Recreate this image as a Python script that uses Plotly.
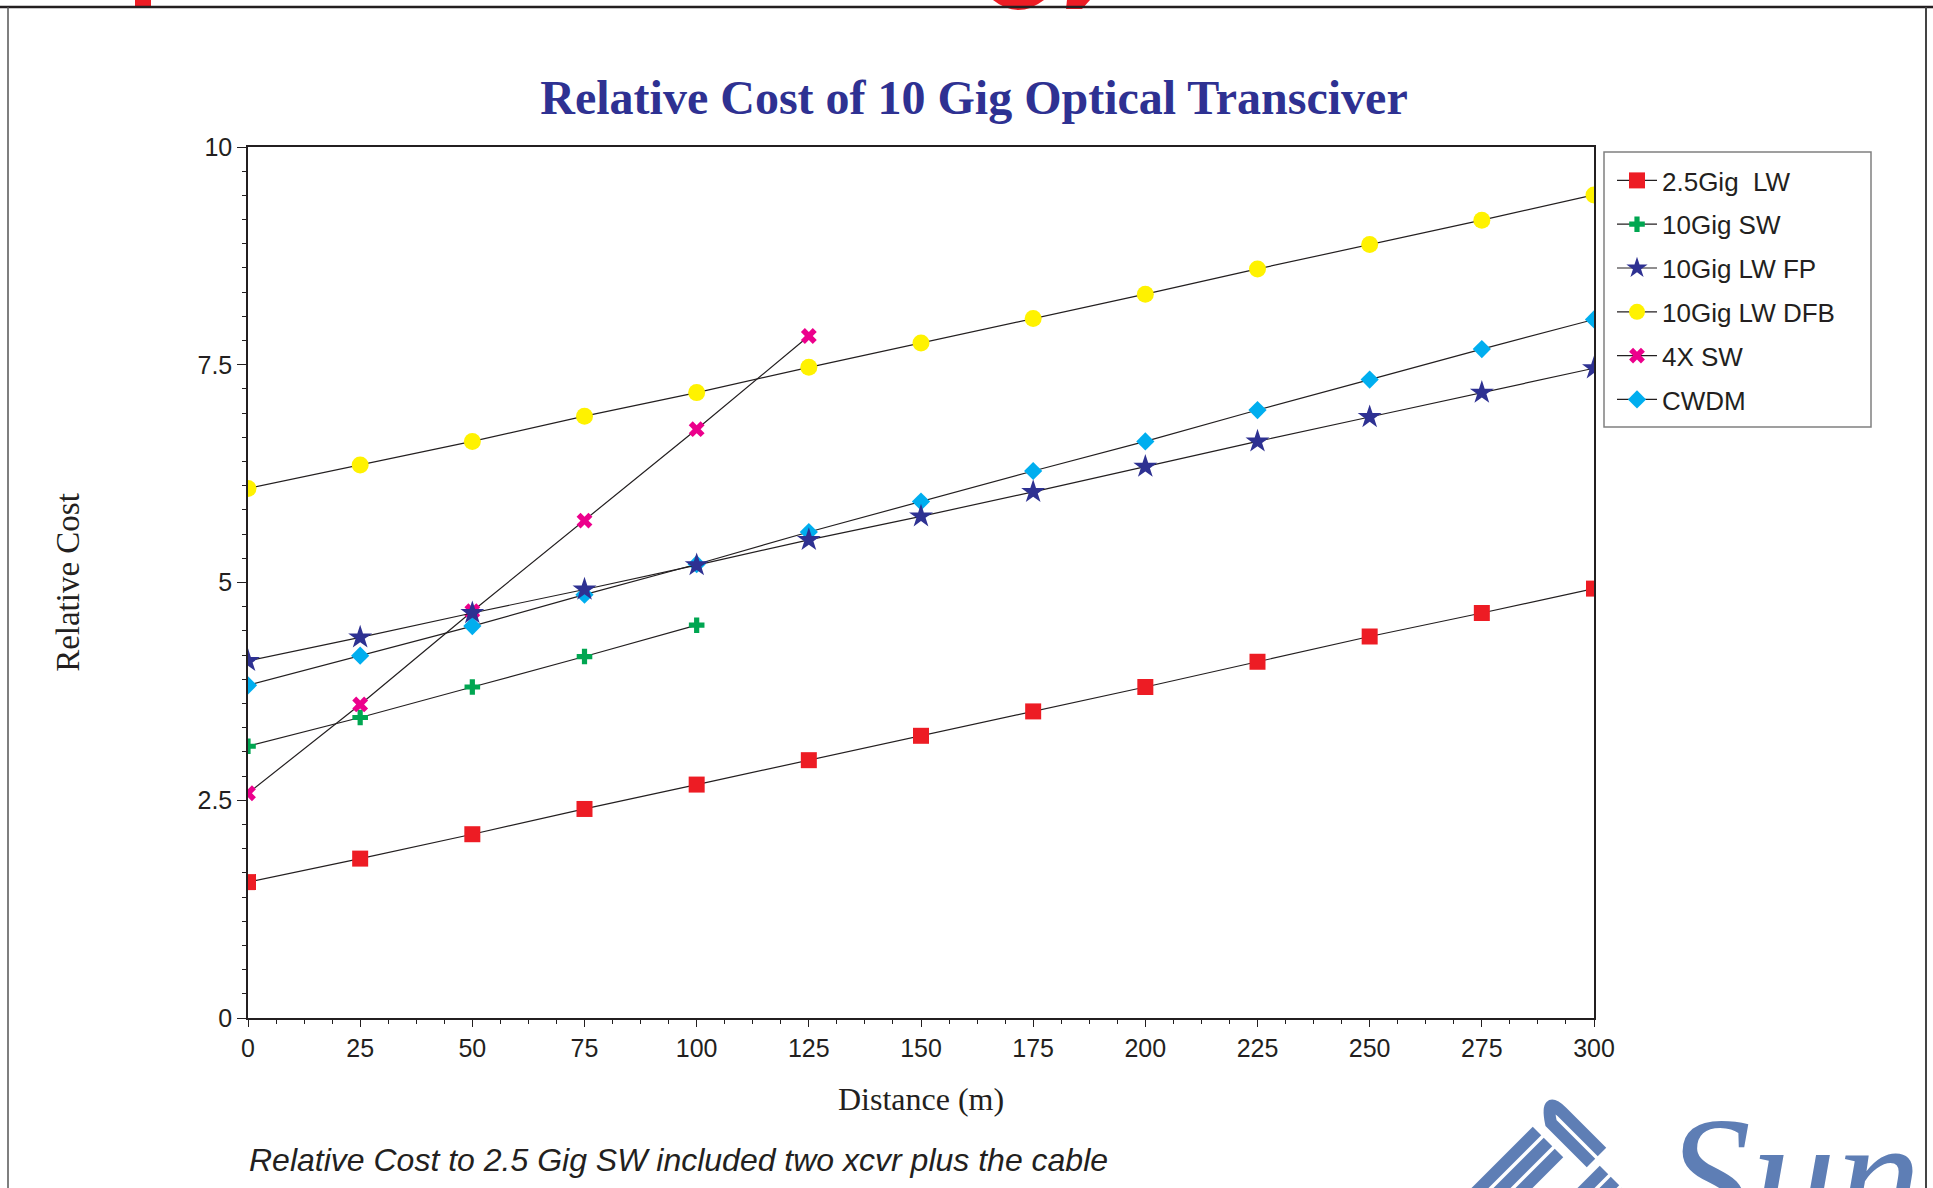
import plotly.graph_objects as go

# ---- data -------------------------------------------------------------
distance = [0, 25, 50, 75, 100, 125, 150, 175, 200, 225, 250, 275, 300]

lw_2_5g = [1.56, 1.83, 2.11, 2.40, 2.68, 2.96, 3.24, 3.52, 3.80, 4.09, 4.38, 4.65, 4.93]
sw_10g = [3.12, 3.45, 3.80, 4.15, 4.51]
lw_fp_10g = [4.10, 4.37, 4.65, 4.92, 5.20, 5.49, 5.76, 6.04, 6.33, 6.62, 6.90, 7.18, 7.46]
lw_dfb_10g = [6.08, 6.35, 6.62, 6.91, 7.18, 7.47, 7.75, 8.03, 8.31, 8.60, 8.88, 9.16, 9.45]
sw_4x = [2.58, 3.60, 4.67, 5.71, 6.76, 7.83]
cwdm = [3.82, 4.16, 4.50, 4.86, 5.21, 5.58, 5.93, 6.28, 6.62, 6.98, 7.33, 7.68, 8.02]

series_names = ["2.5Gig  LW", "10Gig SW", "10Gig LW FP", "10Gig LW DFB", "4X SW", "CWDM"]

# ---- page geometry (pixels) -------------------------------------------
W, H = 1933, 1188
PL, PR, PT, PB = 248, 1594, 147, 1018  # plot area edges


def px(x):
    return (x - PL) / (PR - PL)


def py(y):
    return (PB - y) / (PB - PT)


def path(points, close=False):
    s = "M " + " L ".join(f"{px(x):.5f},{py(y):.5f}" for x, y in points)
    return s + (" Z" if close else "")


INK = "#231F20"
LINE = dict(color=INK, width=1.2)

fig = go.Figure()

# drawing order puts the stars on top; legend order is set by legendrank
traces = [
    (series_names[0], distance, lw_2_5g, "square", 16, "#ED1C24", 1),
    (series_names[1], distance[:len(sw_10g)], sw_10g, "cross", 13, "#00A651", 2),
    (series_names[3], distance, lw_dfb_10g, "circle", 17, "#FFF200", 4),
    (series_names[4], distance[:len(sw_4x)], sw_4x, "x", 14, "#EC008C", 5),
    (series_names[5], distance, cwdm, "diamond", 14, "#00AEEF", 6),
    (series_names[2], distance, lw_fp_10g, "star", 18, "#2E3192", 3),
]
for name, xs, ys, sym, size, color, rank in traces:
    fig.add_trace(go.Scatter(
        x=xs, y=ys, name=name, mode="lines+markers",
        line=LINE,
        marker=dict(symbol=sym, size=size, color=color, line=dict(width=0)),
        legendrank=rank, legendgroup=name,
    ))

axis_font = dict(family="Liberation Sans, Arial, sans-serif", size=25, color=INK)
title_font = dict(family="Liberation Serif, Times New Roman, serif", size=32, color=INK)

fig.update_xaxes(
    range=[0, 300], dtick=25, tick0=0,
    showline=True, linecolor=INK, linewidth=1.5, mirror=True,
    ticks="outside", ticklen=7, tickwidth=1.2, tickcolor=INK,
    minor=dict(dtick=6.25, tick0=0, ticks="outside", ticklen=4, tickwidth=1, tickcolor=INK),
    showgrid=False, zeroline=False, tickfont=axis_font,
    title=dict(text="Distance (m)", font=title_font, standoff=27),
)
fig.update_yaxes(
    range=[0, 10], dtick=2.5, tick0=0,
    showline=True, linecolor=INK, linewidth=1.5, mirror=True,
    ticks="outside", ticklen=9, tickwidth=1.2, tickcolor=INK,
    minor=dict(dtick=2.5 / 9, tick0=0, ticks="outside", ticklen=4, tickwidth=1, tickcolor=INK),
    showgrid=False, zeroline=False, tickfont=axis_font,
    title=dict(text="Relative Cost", font=dict(title_font, size=33), standoff=108),
)

blue_logo = "#5E7EB5"
red_mark = "#ED1C24"
PAPER = dict(xref="paper", yref="paper")

shapes = [
    # slide fragments above the frame
    dict(type="rect", x0=px(135), x1=px(151), y0=py(0), y1=py(8),
         fillcolor=red_mark, line=dict(width=0), **PAPER),
    dict(type="path", path=f"M {px(993):.5f},{py(0):.5f} Q {px(1018):.5f},{py(20):.5f} {px(1044):.5f},{py(0):.5f} Z",
         fillcolor=red_mark, line=dict(width=0), **PAPER),
    dict(type="path", path=path([(1067, 0), (1090, 0), (1082, 9), (1066, 9)], close=True),
         fillcolor=red_mark, line=dict(width=0), **PAPER),
    # slide frame
    dict(type="line", x0=px(0), x1=px(W), y0=py(7), y1=py(7), line=dict(color=INK, width=2.5), **PAPER),
    dict(type="line", x0=px(8), x1=px(8), y0=py(7), y1=py(H + 5), line=dict(color="#555555", width=1.5), **PAPER),
    dict(type="line", x0=px(1926), x1=px(1926), y0=py(7), y1=py(H + 5), line=dict(color="#444444", width=2), **PAPER),
    # legend frame
    dict(type="rect", x0=px(1604), x1=px(1871), y0=py(152), y1=py(427),
         line=dict(color="#808080", width=1.5), fillcolor="rgba(0,0,0,0)", **PAPER),
]

# corporate mark in the lower right corner
lw_bar = 12
u_top = (f"M {px(1602):.5f},{py(1152):.5f} L {px(1562):.5f},{py(1112):.5f} "
         f"Q {px(1545):.5f},{py(1095):.5f} {px(1551):.5f},{py(1123):.5f} "
         f"L {px(1591):.5f},{py(1163):.5f}")
shapes.append(dict(type="path", path=u_top, line=dict(color=blue_logo, width=lw_bar), **PAPER))
for (x0, y0), (x1, y1) in [((1537, 1131), (1470, 1198)),
                           ((1548, 1142), (1484, 1206)),
                           ((1559, 1153), (1500, 1212)),
                           ((1604, 1170), (1580, 1194)),
                           ((1615, 1181), (1600, 1196)),
                           ((1626, 1192), (1620, 1198))]:
    shapes.append(dict(type="line", x0=px(x0), y0=py(y0), x1=px(x1), y1=py(y1),
                       line=dict(color=blue_logo, width=lw_bar), **PAPER))

annotations = [
    dict(text="<i>Relative Cost to 2.5 Gig SW included two xcvr plus the cable</i>",
         x=px(247), y=py(1160), xref="paper", yref="paper", xanchor="left", yanchor="middle",
         showarrow=False, font=dict(family="Liberation Sans, Arial, sans-serif", size=32, color=INK)),
    dict(text="<i>Sun</i>",
         x=px(1664), y=py(1080), xref="paper", yref="paper", xanchor="left", yanchor="top",
         showarrow=False, font=dict(family="Liberation Serif, Times New Roman, serif", size=170, color=blue_logo)),
]

fig.update_layout(
    width=W, height=H,
    margin=dict(l=PL, r=W - PR, t=PT, b=H - PB, autoexpand=False),
    paper_bgcolor="white", plot_bgcolor="white",
    title=dict(text="<b>Relative Cost of 10 Gig Optical Transciver</b>",
               x=974 / W, xanchor="center", xref="container",
               y=1 - 97 / H, yanchor="middle", yref="container",
               font=dict(family="Liberation Serif, Times New Roman, serif", size=48, color="#2E3192")),
    legend=dict(x=px(1612), y=py(157), xanchor="left", yanchor="top",
                xref="paper", yref="paper", bgcolor="rgba(0,0,0,0)", borderwidth=0,
                font=dict(family="Liberation Sans, Arial, sans-serif", size=26, color=INK),
                tracegroupgap=7, itemwidth=40, traceorder="grouped"),
    shapes=shapes,
    annotations=annotations,
    showlegend=True,
)

fig.write_html("out.html")
